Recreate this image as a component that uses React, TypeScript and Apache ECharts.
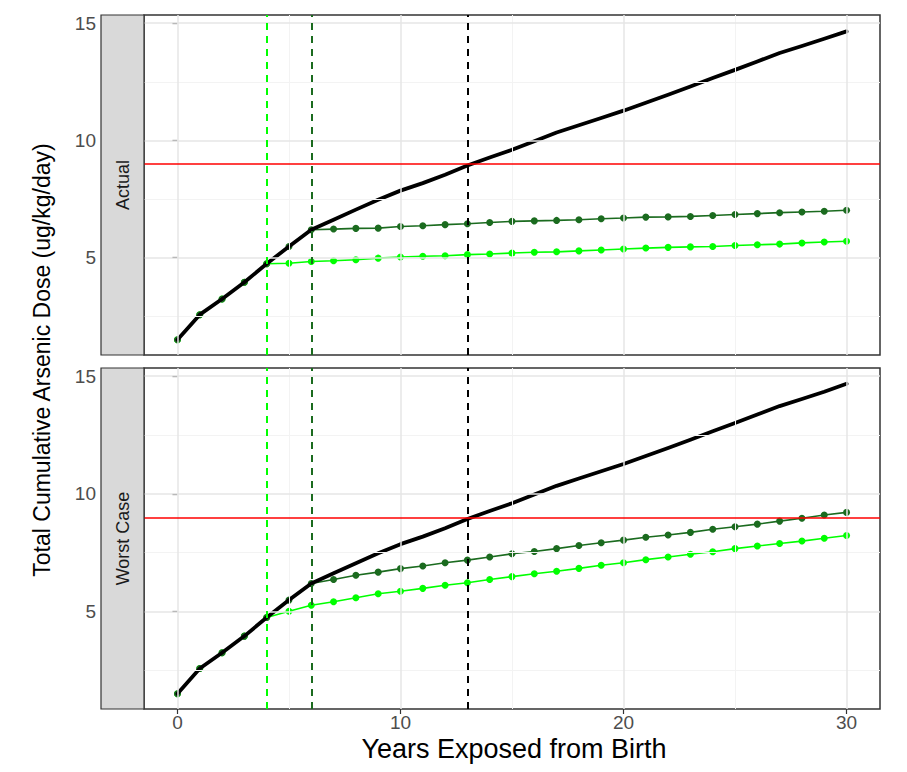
import React, { useEffect, useRef } from "react";
import * as echarts from "echarts";

// ---- data ----
const years = [0, 1, 2, 3, 4, 5, 6, 7, 8, 9, 10, 11, 12, 13, 14, 15, 16, 17, 18, 19, 20, 21, 22, 23, 24, 25, 26, 27, 28, 29, 30];

// total cumulative dose, continuous exposure (black)
const actualTotal = [1.5, 2.57, 3.24, 3.95, 4.74, 5.48, 6.19, 6.62, 7.05, 7.47, 7.86, 8.18, 8.54, 8.93, 9.27, 9.6, 9.97, 10.34, 10.65, 10.96, 11.27, 11.61, 11.95, 12.3, 12.66, 13.01, 13.37, 13.73, 14.03, 14.34, 14.65];
const worstTotal = [1.5, 2.57, 3.24, 3.95, 4.74, 5.48, 6.19, 6.62, 7.05, 7.47, 7.86, 8.18, 8.54, 8.93, 9.27, 9.6, 9.97, 10.34, 10.65, 10.96, 11.27, 11.61, 11.95, 12.3, 12.66, 13.01, 13.37, 13.73, 14.03, 14.34, 14.68];

// exposure stopped at age 6 (dark green)
const actualStop6 = [1.5, 2.57, 3.24, 3.95, 4.74, 5.48, 6.19, 6.22, 6.25, 6.26, 6.33, 6.36, 6.41, 6.45, 6.5, 6.55, 6.57, 6.59, 6.62, 6.66, 6.69, 6.73, 6.74, 6.76, 6.8, 6.84, 6.88, 6.92, 6.95, 6.98, 7.02];
const worstStop6 = [1.5, 2.57, 3.24, 3.95, 4.74, 5.48, 6.19, 6.36, 6.54, 6.67, 6.82, 6.93, 7.07, 7.18, 7.31, 7.45, 7.55, 7.67, 7.8, 7.92, 8.03, 8.15, 8.25, 8.36, 8.49, 8.6, 8.71, 8.84, 8.96, 9.1, 9.21];

// exposure stopped at age 4 (light green)
const actualStop4 = [1.5, 2.57, 3.24, 3.95, 4.74, 4.76, 4.84, 4.87, 4.91, 4.98, 5.03, 5.06, 5.08, 5.13, 5.16, 5.2, 5.23, 5.25, 5.29, 5.33, 5.37, 5.41, 5.44, 5.46, 5.48, 5.52, 5.55, 5.58, 5.63, 5.67, 5.7];
const worstStop4 = [1.5, 2.57, 3.24, 3.95, 4.74, 5.01, 5.26, 5.41, 5.58, 5.75, 5.86, 5.98, 6.11, 6.22, 6.36, 6.48, 6.6, 6.71, 6.83, 6.96, 7.07, 7.2, 7.31, 7.43, 7.54, 7.67, 7.78, 7.89, 7.99, 8.11, 8.23];

const threshold = 9;
const cutoffStop4 = 4;
const cutoffStop6 = 6;
const cutoffCross = 13;

const panelNames = ["Actual", "Worst Case"];
const xTicks = [0, 10, 20, 30];
const yTicks = [5, 10, 15];
const xGridMajor = [0, 10, 20, 30];
const xGridMinor = [5, 15, 25];
const yGridMajor = [5, 10, 15];
const yGridMinor = [2.5, 7.5, 12.5];

const X_TITLE = "Years Exposed from Birth";
const Y_TITLE = "Total Cumulative Arsenic Dose (ug/kg/day)";

const FONT = "'Liberation Sans', Arial, sans-serif";
const BLACK = "#000000";
const DARK_GREEN = "#1b6b1f";
const LIGHT_GREEN = "#00ff00";
const RED = "#ff0000";

const toPts = (vals: number[]) => years.map((x, i) => [x, vals[i]]);

export default function App() {
  const ref = useRef<HTMLDivElement>(null);

  useEffect(() => {
    document.body.style.margin = "0";
    if (!ref.current) return;
    const chart = echarts.init(ref.current, undefined, { renderer: "svg" });

    const gridDefs = [
      { top: 15, height: 340 },
      { top: 368, height: 341 },
    ];
    const panels = [
      { total: actualTotal, s6: actualStop6, s4: actualStop4 },
      { total: worstTotal, s6: worstStop6, s4: worstStop4 },
    ];

    const series: any[] = [];
    panels.forEach((p, g) => {
      // gridlines
      series.push({
        type: "line",
        xAxisIndex: g,
        yAxisIndex: g,
        data: [],
        silent: true,
        z: 1,
        markLine: {
          silent: true,
          symbol: "none",
          label: { show: false },
          animation: false,
          data: [
            ...xGridMinor.map((v) => ({ xAxis: v, lineStyle: { color: "#f3f3f3", width: 1, type: "solid" } })),
            ...yGridMinor.map((v) => ({ yAxis: v, lineStyle: { color: "#f3f3f3", width: 1, type: "solid" } })),
            ...xGridMajor.map((v) => ({ xAxis: v, lineStyle: { color: "#e6e6e6", width: 1.5, type: "solid" } })),
            ...yGridMajor.map((v) => ({ yAxis: v, lineStyle: { color: "#e6e6e6", width: 1.5, type: "solid" } })),
          ],
        },
      });
      series.push({
        type: "line",
        name: "stop4",
        xAxisIndex: g,
        yAxisIndex: g,
        data: toPts(p.s4),
        symbol: "circle",
        symbolSize: 7,
        itemStyle: { color: LIGHT_GREEN },
        lineStyle: { color: LIGHT_GREEN, width: 1.6 },
        z: 2,
      });
      series.push({
        type: "line",
        name: "stop6",
        xAxisIndex: g,
        yAxisIndex: g,
        data: toPts(p.s6),
        symbol: "circle",
        symbolSize: 7,
        itemStyle: { color: DARK_GREEN },
        lineStyle: { color: DARK_GREEN, width: 1.6 },
        z: 3,
      });
      series.push({
        type: "line",
        name: "total",
        xAxisIndex: g,
        yAxisIndex: g,
        data: toPts(p.total),
        symbol: "none",
        lineStyle: { color: BLACK, width: 3.8, join: "round", cap: "round" },
        z: 4,
        markLine: {
          silent: true,
          symbol: "none",
          label: { show: false },
          animation: false,
          data: [
            { yAxis: threshold, lineStyle: { color: RED, width: 1.6, type: "solid" } },
            { xAxis: cutoffStop4, lineStyle: { color: LIGHT_GREEN, width: 2, type: [7, 6] } },
            { xAxis: cutoffStop6, lineStyle: { color: DARK_GREEN, width: 2, type: [7, 6] } },
            { xAxis: cutoffCross, lineStyle: { color: BLACK, width: 2, type: [7, 6] } },
          ],
        },
      });
    });

    const graphics: any[] = [];
    gridDefs.forEach((gd, g) => {
      graphics.push({
        type: "rect",
        shape: { x: 101, y: gd.top, width: 43, height: gd.height },
        style: { fill: "#d9d9d9", stroke: "#333333", lineWidth: 1.2 },
        z: 10,
      });
      graphics.push({
        type: "text",
        x: 123,
        y: gd.top + gd.height / 2,
        rotation: Math.PI / 2,
        style: {
          text: panelNames[g],
          font: `18px ${FONT}`,
          fill: "#1a1a1a",
          align: "center",
          verticalAlign: "middle",
        },
        z: 11,
      });
    });
    graphics.push({
      type: "text",
      x: 42,
      y: 360,
      rotation: Math.PI / 2,
      style: {
        text: Y_TITLE,
        font: `23px ${FONT}`,
        fill: "#000000",
        align: "center",
        verticalAlign: "middle",
      },
    });
    graphics.push({
      type: "text",
      x: 514,
      y: 749,
      style: {
        text: X_TITLE,
        font: `27px ${FONT}`,
        fill: "#000000",
        align: "center",
        verticalAlign: "middle",
      },
    });

    const option: any = {
      animation: false,
      backgroundColor: "#ffffff",
      grid: gridDefs.map((gd) => ({
        left: 144,
        top: gd.top,
        width: 736,
        height: gd.height,
        show: true,
        borderColor: "#333333",
        borderWidth: 1.5,
        backgroundColor: "transparent",
        containLabel: false,
      })),
      xAxis: gridDefs.map((gd, g) => ({
        type: "value",
        gridIndex: g,
        min: -1.5,
        max: 31.5,
        axisLine: { show: false },
        splitLine: { show: false },
        axisTick: {
          show: g === 1,
          customValues: xTicks,
          length: 5,
          lineStyle: { color: "#333333", width: 1.2 },
        },
        axisLabel: {
          show: g === 1,
          customValues: xTicks,
          fontSize: 19,
          fontFamily: FONT,
          color: "#4d4d4d",
          margin: 4,
        },
      })),
      yAxis: gridDefs.map((gd, g) => ({
        type: "value",
        gridIndex: g,
        min: 0.85,
        max: 15.35,
        offset: 44,
        axisLine: { show: false },
        splitLine: { show: false },
        axisTick: {
          show: true,
          customValues: yTicks,
          length: 5,
          lineStyle: { color: "#333333", width: 1.2 },
        },
        axisLabel: {
          show: true,
          customValues: yTicks,
          fontSize: 19,
          fontFamily: FONT,
          color: "#4d4d4d",
          margin: 4,
        },
      })),
      series,
      graphic: graphics,
    };

    chart.setOption(option);
    return () => chart.dispose();
  }, []);

  return <div ref={ref} style={{ width: 907, height: 772 }} />;
}
